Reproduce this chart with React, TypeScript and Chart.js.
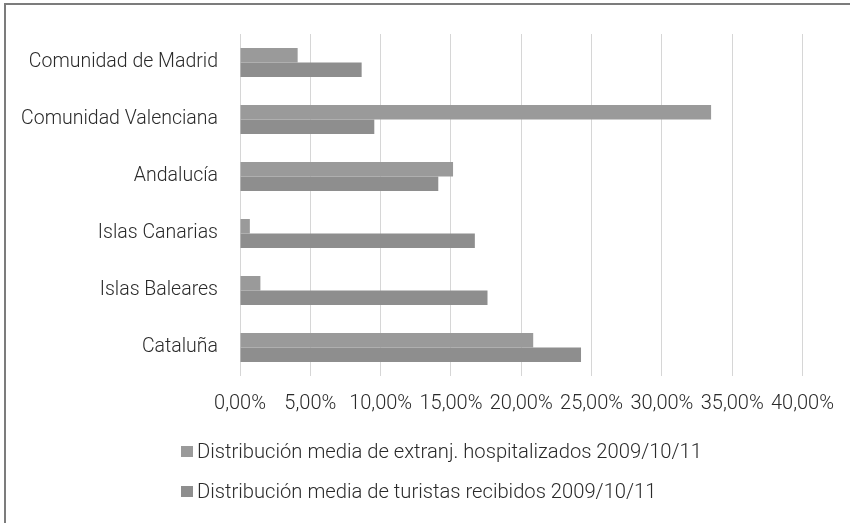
import React, { useEffect, useRef } from "react";
import { Chart, registerables } from "chart.js";

Chart.register(...registerables);

const categories = [
  "Comunidad de Madrid",
  "Comunidad Valenciana",
  "Andalucía",
  "Islas Canarias",
  "Islas Baleares",
  "Cataluña",
];
const seriesNames = [
  "Distribución media de extranj. hospitalizados 2009/10/11",
  "Distribución media de turistas recibidos 2009/10/11",
];
const hospitalizados = [4.1, 33.5, 15.15, 0.7, 1.45, 20.85];
const turistas = [8.65, 9.55, 14.1, 16.7, 17.6, 24.25];
const seriesColors = ["#9a9a9a", "#8e8e8e"];
const xTicks = [0, 5, 10, 15, 20, 25, 30, 35, 40];

const FONT = "Roboto, 'Liberation Sans', Arial, sans-serif";
const TEXT = "#2a2a2a";

const legendPlugin = {
  id: "stackedLegend",
  afterDraw(chart: any) {
    const ctx = chart.ctx;
    ctx.save();
    ctx.font = `300 20.2px ${FONT}`;
    ctx.textBaseline = "middle";
    ctx.textAlign = "left";
    const ys = [452, 492];
    chart.data.datasets.forEach((ds: any, i: number) => {
      const y = ys[i];
      ctx.fillStyle = ds.backgroundColor;
      ctx.fillRect(181, y - 6, 12, 11);
      ctx.fillStyle = TEXT;
      ctx.fillText(ds.label, 197, y + 1);
    });
    ctx.restore();
  },
};

export default function App() {
  const ref = useRef<HTMLCanvasElement | null>(null);
  useEffect(() => {
    if (!ref.current) return;
    const chart = new Chart(ref.current, {
      type: "bar",
      data: {
        labels: categories,
        datasets: [
          {
            label: seriesNames[0],
            data: hospitalizados,
            backgroundColor: seriesColors[0],
            barPercentage: 1,
            categoryPercentage: 0.51,
          },
          {
            label: seriesNames[1],
            data: turistas,
            backgroundColor: seriesColors[1],
            barPercentage: 1,
            categoryPercentage: 0.51,
          },
        ],
      },
      options: {
        indexAxis: "y",
        animation: false,
        responsive: false,
        devicePixelRatio: 1,
        layout: { padding: { top: 34, right: 34, bottom: 97, left: 0 } },
        plugins: {
          legend: { display: false },
          tooltip: { enabled: false },
        },
        scales: {
          x: {
            min: 0,
            max: 40,
            afterBuildTicks(scale: any) {
              scale.ticks = xTicks.map((v) => ({ value: v }));
            },
            afterFit(scale: any) {
              scale.height = 50;
            },
            ticks: {
              padding: 16,
              autoSkip: false,
              color: TEXT,
              font: { family: FONT, size: 20, weight: "300" },
              maxRotation: 0,
              callback: (v: any) => Number(v).toFixed(2).replace(".", ",") + "%",
            },
            grid: { color: "#d6d6d6", drawTicks: false, lineWidth: 1 },
            border: { display: false },
          },
          y: {
            afterFit(scale: any) {
              scale.width = 240;
            },
            ticks: {
              padding: 22,
              color: TEXT,
              font: { family: FONT, size: 19.5, weight: "300" },
            },
            grid: { display: false, drawTicks: false },
            border: { display: false },
          },
        },
      },
      plugins: [legendPlugin],
    });
    return () => chart.destroy();
  }, []);
  return (
    <div style={{ position: "absolute", left: 0, top: 0, width: 850, height: 523, background: "#fff" }}>
      <canvas ref={ref} width={850} height={523} style={{ position: "absolute", left: 0, top: 0 }} />
      <div
        style={{
          position: "absolute",
          left: 4,
          top: 3,
          width: 846,
          height: 520,
          borderTop: "2px solid #7c7c7c",
          borderLeft: "2px solid #7c7c7c",
          pointerEvents: "none",
        }}
      />
    </div>
  );
}
